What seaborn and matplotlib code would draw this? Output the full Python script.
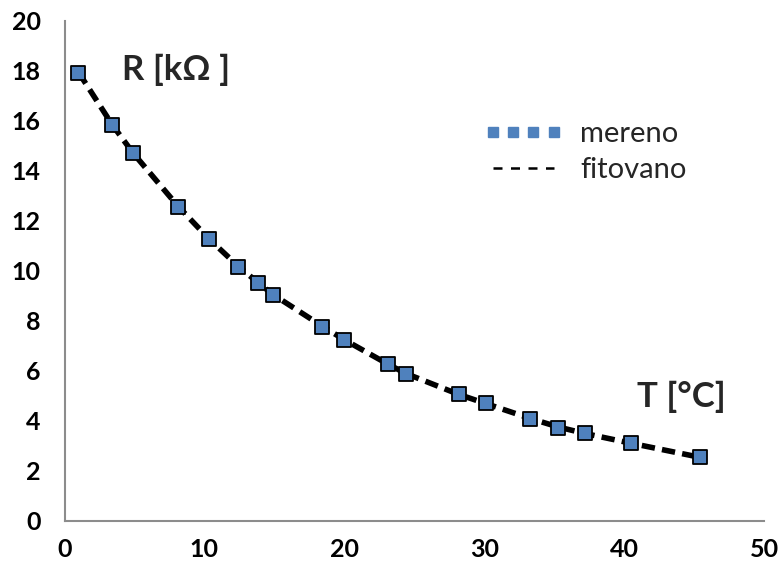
import matplotlib
matplotlib.use("Agg")
import matplotlib.pyplot as plt
from matplotlib.lines import Line2D
import seaborn as sns
import pandas as pd

# Measured thermistor resistance vs temperature
temp_C = [1.0, 3.4, 4.9, 8.1, 10.3, 12.4, 13.8, 14.9, 18.4, 20.0,
          23.1, 24.4, 28.2, 30.1, 33.3, 35.3, 37.2, 40.5, 45.4]
R_meas = [17.92, 15.84, 14.74, 12.58, 11.30, 10.18, 9.54, 9.06, 7.78, 7.24,
          6.28, 5.88, 5.08, 4.72, 4.08, 3.74, 3.52, 3.12, 2.56]
# Fitted curve evaluated at the same temperatures
R_fit = [17.95, 15.86, 14.72, 12.60, 11.30, 10.20, 9.55, 9.06, 7.80, 7.25,
         6.28, 5.90, 5.06, 4.70, 4.10, 3.76, 3.50, 3.11, 2.55]

x_ticks = [0, 10, 20, 30, 40, 50]
y_ticks = [0, 2, 4, 6, 8, 10, 12, 14, 16, 18, 20]

meas = pd.DataFrame({"T": temp_C, "R": R_meas})
fit = pd.DataFrame({"T": temp_C, "R": R_fit})

sns.set_theme(style="white")
plt.rcParams["font.family"] = ["Lato", "DejaVu Sans"]

fig = plt.figure(figsize=(7.82, 5.69), dpi=100)
ax = fig.add_axes([64.5 / 782, 48 / 569, (764 - 64.5) / 782, 500 / 569])

sns.lineplot(data=fit, x="T", y="R", ax=ax, color="black", lw=4.0,
             dashes=False, linestyle=(0, (2.4, 1.3)), zorder=2)
sns.scatterplot(data=meas, x="T", y="R", ax=ax, marker="s", s=95,
                color="#4F81BD", edgecolor="black", linewidth=1.3, zorder=3)

ax.set_xlim(0, 50)
ax.set_ylim(0, 20)
ax.set_xticks(x_ticks)
ax.set_yticks(y_ticks)
ax.set_xlabel("")
ax.set_ylabel("")

for side in ("top", "right"):
    ax.spines[side].set_visible(False)
for side in ("left", "bottom"):
    ax.spines[side].set_color("#8c8c8c")
    ax.spines[side].set_linewidth(1.5)
ax.tick_params(axis="both", direction="out", length=5, width=1.5,
               color="#8c8c8c", labelsize=18, labelcolor="black")
ax.tick_params(axis="x", pad=7)
ax.tick_params(axis="y", pad=12)
for lab in ax.get_xticklabels() + ax.get_yticklabels():
    lab.set_fontweight("bold")

ax.text(8.0, 18.05, "R [kΩ ]", fontsize=25, fontweight="bold",
        ha="center", va="center")
ax.text(44.1, 4.95, "T [°C]", fontsize=25, fontweight="bold",
        ha="center", va="center")

handles = [
    Line2D([], [], marker="s", linestyle="none", color="#4F81BD",
           markeredgecolor="#4F81BD", markersize=7.5),
    Line2D([], [], color="black", lw=1.8, linestyle=(0, (3.6, 3.4))),
]
leg = ax.legend(handles, ["mereno", "fitovano"], loc="upper left",
                bbox_to_anchor=(0.562, 0.853), frameon=False, fontsize=21,
                numpoints=4, handlelength=2.7, handletextpad=0.6,
                labelspacing=0.35)

fig.savefig("out.png", dpi=100, facecolor="white")
